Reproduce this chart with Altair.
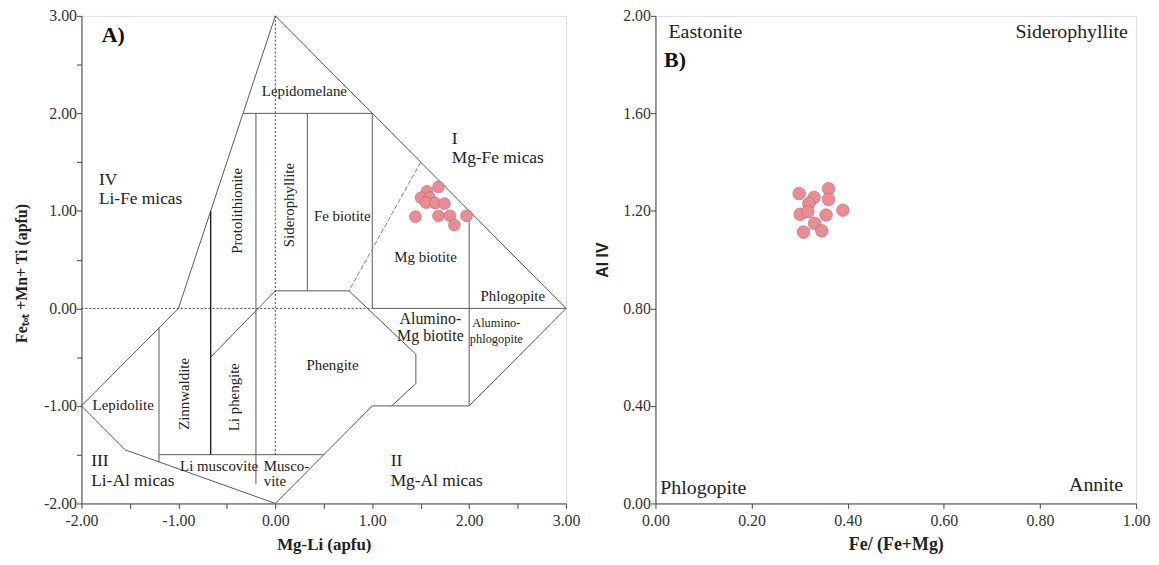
import altair as alt
import pandas as pd

# ---------------- Panel A: classification diagram geometry (Mg-Li vs Fe+Mn+Ti) ----------------
outer_x = [0, -1, -2, -1.55, 0, 1, 2, 3, 0]
outer_y = [3, 0, -1, -1.45, -2, -1, -1, 0, 3]
phengite_x = [-0.667, 0, 0.76, 1.45, 1.45, 1.2]
phengite_y = [-0.5, 0.18, 0.18, -0.47, -0.77, -1.0]
inner_x1 = [-0.333, -0.2, 0.33, 1, 1, 2, -1.2, -1.2]
inner_y1 = [2, 2, 2, 2, 0, 1, -0.2, -1.5]
inner_x2 = [1, -0.2, 0.33, 1, 3, 2, -1.2, 0.5]
inner_y2 = [2, -1.8, 0.18, 0, 0, -1, -1.574, -1.5]
thick_seg = [(-0.667, 1.0, -0.667, -1.5)]
dotted_seg = [(-2, 0, 1, 0), (0, 3, 0, -1.5)]
dashed_seg = [(1.5, 1.5, 0.76, 0.18)]

# sample points, panel A
a_x = [1.565, 1.683, 1.503, 1.592, 1.555, 1.650, 1.745, 1.445, 1.683, 1.803, 1.847, 1.973]
a_y = [1.200, 1.245, 1.136, 1.136, 1.085, 1.080, 1.075, 0.940, 0.950, 0.950, 0.855, 0.950]

# labels panel A
ac_text = ["Lepidomelane", "Fe biotite", "Mg biotite", "Phlogopite", "Alumino-", "Mg biotite",
           "Phengite", "Lepidolite", "Li muscovite", "Alumino-", "phlogopite"]
ac_x = [0.30, 0.69, 1.55, 2.45, 1.60, 1.60, 0.59, -1.57, -0.58, 2.28, 2.28]
ac_y = [2.226, 0.95, 0.53, 0.125, -0.11, -0.28, -0.58, -0.995, -1.62, -0.15, -0.31]
ac_s = [15, 15, 15, 15, 16, 16, 15, 15, 15, 12.5, 12.5]

al_text = ["IV", "Li-Fe micas", "I", "Mg-Fe micas", "III", "Li-Al micas", "Musco-", "vite", "II", "Mg-Al micas"]
al_x = [-1.82, -1.82, 1.82, 1.82, -1.90, -1.90, -0.12, -0.12, 1.19, 1.19]
al_y = [1.313, 1.126, 1.737, 1.54, -1.57, -1.766, -1.62, -1.766, -1.57, -1.766]
al_s = [17.5, 17.5, 17.5, 17.5, 17.5, 17.5, 15, 15, 17.5, 17.5]

ar_text = ["Protolithionite", "Siderophyllite", "Zinnwaldite", "Li phengite"]
ar_x = [-0.393, 0.14, -0.938, -0.427]
ar_y = [1.0, 1.06, -0.877, -0.91]

# ---------------- Panel B: Fe/(Fe+Mg) vs Al IV ----------------
b_x = [0.299, 0.330, 0.360, 0.319, 0.360, 0.301, 0.317, 0.355, 0.390, 0.331, 0.308, 0.346]
b_y = [1.271, 1.255, 1.291, 1.230, 1.247, 1.186, 1.197, 1.183, 1.203, 1.149, 1.113, 1.118]

bl_text = ["Eastonite", "Phlogopite"]
bl_x = [0.027, 0.010]
bl_y = [1.932, 0.062]
br_text = ["Siderophyllite", "Annite"]
br_x = [0.983, 0.973]
br_y = [1.932, 0.074]

a_ticks = [-2, -1.5, -1, -0.5, 0, 0.5, 1, 1.5, 2, 2.5, 3]
b_xticks = [0, 0.2, 0.4, 0.6, 0.8, 1.0]
b_yticks = [0, 0.4, 0.8, 1.2, 1.6, 2.0]

SERIF = "Liberation Serif"
PT_FILL = "#EA8C93"
PT_STROKE = "#B9666D"

lab_expr_half = "datum.value % 1 == 0 ? (datum.value < 0 ? '-' : '') + format(abs(datum.value), '.2f') : ''"
lab_expr_2f = "format(datum.value, '.2f')"


def axis(values, expr, title_pad, title_size, label_pad, title_font=SERIF, title_y=None):
    kw = dict(values=values, labelExpr=expr, tickSize=5, grid=False,
              labelFont=SERIF, labelFontSize=16, labelColor="#333",
              labelPadding=label_pad, domainColor="#444", tickColor="#444",
              titleFont=title_font, titleFontSize=title_size, titleFontWeight="bold",
              titleColor="#222", titlePadding=title_pad, labelOverlap=False,
              labelFlush=False)
    if title_y is not None:
        kw["titleY"] = title_y
    return alt.Axis(**kw)


AX_X = axis(a_ticks, lab_expr_half, 8, 17, 4)
AX_Y = axis(a_ticks, lab_expr_half, 14, 16, 0, title_y=259)
BX_X = axis(b_xticks, lab_expr_2f, 7, 18, 4)
BX_Y = axis(b_yticks, lab_expr_2f, 12, 16, 0, title_font="Liberation Sans")


def ax(f):
    return alt.X(f, type="quantitative", scale=alt.Scale(domain=[-2, 3], nice=False, zero=False),
                 axis=AX_X, title="Mg-Li (apfu)")


def ay(f):
    return alt.Y(f, type="quantitative", scale=alt.Scale(domain=[-2, 3], nice=False, zero=False),
                 axis=AX_Y, title="Feₜₒₜ +Mn+ Ti (apfu)")


def bx(f):
    return alt.X(f, type="quantitative", scale=alt.Scale(domain=[0, 1], nice=False, zero=False),
                 axis=BX_X, title="Fe/ (Fe+Mg)")


def by(f):
    return alt.Y(f, type="quantitative", scale=alt.Scale(domain=[0, 2], nice=False, zero=False),
                 axis=BX_Y, title="Al IV")


def seg_df(segs):
    return pd.DataFrame(segs, columns=["x1", "y1", "x2", "y2"])


solid = []
for i in range(len(outer_x) - 1):
    solid.append((outer_x[i], outer_y[i], outer_x[i + 1], outer_y[i + 1]))
for i in range(len(phengite_x) - 1):
    solid.append((phengite_x[i], phengite_y[i], phengite_x[i + 1], phengite_y[i + 1]))
for i in range(len(inner_x1)):
    solid.append((inner_x1[i], inner_y1[i], inner_x2[i], inner_y2[i]))


def rules(segs, **kw):
    return alt.Chart(seg_df(segs)).mark_rule(**kw).encode(
        x=ax("x1"), y=ay("y1"), x2=alt.X2("x2"), y2=alt.Y2("y2"))


r_solid = rules(solid, color="#5a5a5a", strokeWidth=1)
r_thick = rules(thick_seg, color="#222", strokeWidth=1.4)
r_dot = rules(dotted_seg, color="#444", strokeWidth=1, strokeDash=[2, 2])
r_dash = rules(dashed_seg, color="#777", strokeWidth=0.9, strokeDash=[5, 2])

dfac = pd.DataFrame({"x": ac_x, "y": ac_y, "t": ac_text, "s": ac_s})
t_ac = alt.Chart(dfac).mark_text(font=SERIF, color="#222", align="center", baseline="middle").encode(
    x=ax("x"), y=ay("y"), text="t:N", size=alt.Size("s:Q", scale=None, legend=None))

dfal = pd.DataFrame({"x": al_x, "y": al_y, "t": al_text, "s": al_s})
t_al = alt.Chart(dfal).mark_text(font=SERIF, color="#222", align="left", baseline="middle").encode(
    x=ax("x"), y=ay("y"), text="t:N", size=alt.Size("s:Q", scale=None, legend=None))

dfar = pd.DataFrame({"x": ar_x, "y": ar_y, "t": ar_text})
t_ar = alt.Chart(dfar).mark_text(font=SERIF, color="#222", align="center", baseline="middle",
                                 angle=270, fontSize=15).encode(
    x=ax("x"), y=ay("y"), text="t:N")

t_A = alt.Chart(pd.DataFrame({"x": [-1.79], "y": [2.80], "t": ["A)"]})).mark_text(
    font=SERIF, fontWeight="bold", fontSize=22, color="#111", align="left", baseline="middle").encode(
    x=ax("x"), y=ay("y"), text="t:N")

p_A = alt.Chart(pd.DataFrame({"x": a_x, "y": a_y})).mark_circle(
    size=140, color=PT_FILL, stroke=PT_STROKE, strokeWidth=0.6, opacity=1).encode(
    x=ax("x"), y=ay("y"))

panelA = alt.layer(r_solid, r_dot, r_dash, r_thick, t_ac, t_al, t_ar, t_A, p_A).properties(
    width=488, height=491)

# Panel B
t_bl = alt.Chart(pd.DataFrame({"x": bl_x, "y": bl_y, "t": bl_text})).mark_text(
    font=SERIF, fontSize=20, color="#222", align="left", baseline="middle").encode(
    x=bx("x"), y=by("y"), text="t:N")
t_br = alt.Chart(pd.DataFrame({"x": br_x, "y": br_y, "t": br_text})).mark_text(
    font=SERIF, fontSize=20, color="#222", align="right", baseline="middle").encode(
    x=bx("x"), y=by("y"), text="t:N")
t_B = alt.Chart(pd.DataFrame({"x": [0.018], "y": [1.82], "t": ["B)"]})).mark_text(
    font=SERIF, fontWeight="bold", fontSize=22, color="#111", align="left", baseline="middle").encode(
    x=bx("x"), y=by("y"), text="t:N")
p_B = alt.Chart(pd.DataFrame({"x": b_x, "y": b_y})).mark_circle(
    size=160, color=PT_FILL, stroke=PT_STROKE, strokeWidth=0.6, opacity=1).encode(
    x=bx("x"), y=by("y"))

panelB = alt.layer(t_bl, t_br, t_B, p_B).properties(width=484, height=491)

chart = alt.hconcat(panelA, panelB, spacing=90, bounds="flush").properties(
    padding={"left": 5, "top": -3, "right": 0, "bottom": -2}
).configure_view(stroke="#555", strokeWidth=1).configure(background="white")

chart.save("out.html", embed_options={"renderer": "svg", "actions": False})
